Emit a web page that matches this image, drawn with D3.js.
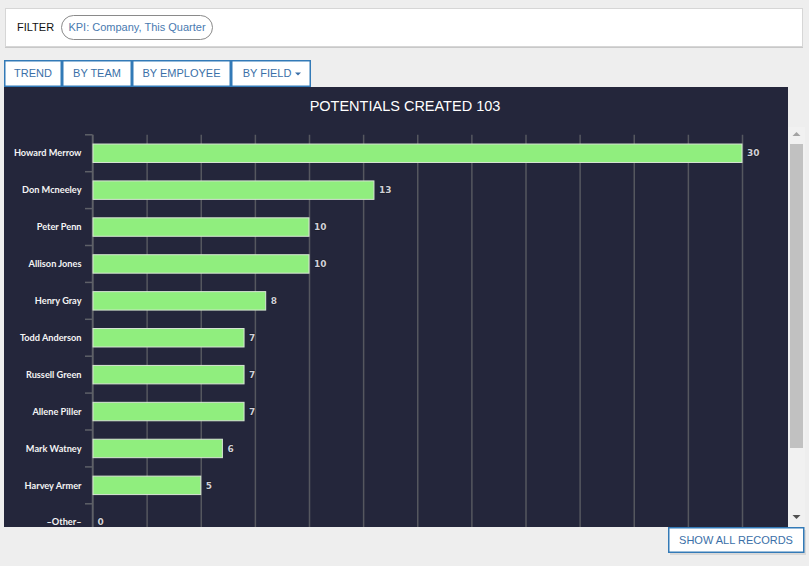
<!DOCTYPE html>
<html><head><meta charset="utf-8">
<script src="https://cdn.jsdelivr.net/npm/d3@7"></script>
<style>
body{margin:0;background:#eeeeee;font-family:"Liberation Sans",Arial,sans-serif;}
svg{display:block;}
</style></head><body>
<svg id="c" width="809" height="566"></svg>
<script>
const categories = ["Howard Merrow","Don Mcneeley","Peter Penn","Allison Jones","Henry Gray","Todd Anderson","Russell Green","Allene Piller","Mark Watney","Harvey Armer","–Other–"];
const values = [30,13,10,10,8,7,7,7,6,5,0];
const xTicks = [0,2.5,5,7.5,10,12.5,15,17.5,20,22.5,25,27.5,30];
const tabs = ["TREND","BY TEAM","BY EMPLOYEE","BY FIELD"];
const title = "POTENTIALS CREATED 103";
const filterText = "KPI: Company, This Quarter";

const svg = d3.select("#c");
const blue = "#337ab7";

// filter box
svg.append("rect").attr("x",5.5).attr("y",8.5).attr("width",797).attr("height",38)
  .attr("fill","#fff").attr("stroke","#d6d6d6");
svg.append("line").attr("x1",5).attr("x2",803).attr("y1",47.5).attr("y2",47.5).attr("stroke","#c8c8c8");
svg.append("text").attr("x",17).attr("y",31).attr("font-size",11).attr("fill","#111").text("FILTER");
svg.append("rect").attr("x",61.5).attr("y",15.5).attr("width",151).attr("height",24).attr("rx",12)
  .attr("fill","#fff").attr("stroke","#8a8a8a");
svg.append("text").attr("x",137).attr("y",31).attr("text-anchor","middle").attr("font-size",11)
  .attr("fill","#4a7ab0").text(filterText);

// tabs
const tabEdges = [4,62,132,231,311];
tabs.forEach((t,i)=>{
  const x0 = tabEdges[i], x1 = tabEdges[i+1];
  svg.append("rect").attr("x",x0+0.75).attr("y",60.75).attr("width",x1-x0-1.5).attr("height",25.5)
    .attr("fill","#fff").attr("stroke",blue).attr("stroke-width",1.5);
  svg.append("text").attr("x",(x0+x1)/2 - (i===3?4:0)).attr("y",77).attr("text-anchor","middle")
    .attr("font-size",11).attr("fill","#3a6fa8").text(t);
  if(i===3){
    svg.append("path").attr("d",`M${x1-16},${72.5} l6,0 l-3,3 z`).attr("fill","#3a6fa8");
  }
});

// dark panel
const panel = {x:4,y:87,w:784,h:440};
svg.append("rect").attr("x",panel.x).attr("y",panel.y).attr("width",panel.w).attr("height",panel.h).attr("fill","#24263b");
svg.append("text").attr("x",405).attr("y",111).attr("text-anchor","middle").attr("font-size",14.5)
  .attr("fill","#fff").text(title);

// scrollbar
svg.append("rect").attr("x",788).attr("y",127).attr("width",17).attr("height",400).attr("fill","#f1f1f1");
svg.append("rect").attr("x",790).attr("y",144).attr("width",13).attr("height",304).attr("fill","#c1c1c1");
svg.append("path").attr("d","M792.5,136 l4,-4 l4,4 z").attr("fill","#a3a3a3");
svg.append("path").attr("d","M792.5,515 l4,4 l4,-4 z").attr("fill","#505050");

// chart
svg.append("clipPath").attr("id","clip").append("rect").attr("x",panel.x).attr("y",panel.y).attr("width",panel.w).attr("height",panel.h);
const g = svg.append("g").attr("clip-path","url(#clip)");

const bandStep = 36.9, plotTop = 134.8;
const x = d3.scaleLinear().domain([0,30]).range([92.5,742]);
const y = d3.scaleBand().domain(categories).range([plotTop,plotTop+11*bandStep]).paddingInner(0.5).paddingOuter(0.25);

// grid
const xAxis = d3.axisBottom(x).tickValues(xTicks).tickSize(420).tickFormat("");
const gx = g.append("g").attr("transform",`translate(0,${plotTop})`).call(xAxis);
gx.select(".domain").remove();
gx.selectAll(".tick line").attr("stroke","#55575f").attr("stroke-width",1.5);

// y axis
const yScaleTicks = d3.scaleLinear().domain([0,11]).range([plotTop,plotTop+11*bandStep]);
const gy = g.append("g").attr("transform","translate(92.5,0)")
  .call(d3.axisLeft(y).tickSize(0).tickPadding(11));
gy.select(".domain").attr("stroke","#5e6068").attr("stroke-width",1.5).attr("d",`M0,${plotTop}V560`);
gy.selectAll(".tick text").attr("fill","#f4f4f4").attr("font-size",9.2).attr("font-weight","bold")
  .attr("font-family","Lato,'Liberation Sans',Arial,sans-serif").attr("dy","0.35em");
g.append("g").selectAll("line").data(d3.range(12)).join("line")
  .attr("x1",85).attr("x2",92.5).attr("y1",d=>yScaleTicks(d)).attr("y2",d=>yScaleTicks(d))
  .attr("stroke","#5e6068").attr("stroke-width",1.5);

// bars
g.append("g").selectAll("rect").data(values).join("rect")
  .attr("x",x(0)+0.5).attr("y",(d,i)=>y(categories[i]))
  .attr("width",d=>Math.max(0,x(d)-x(0)-0.5)).attr("height",y.bandwidth())
  .attr("fill",d=>d>0?"#90ee7e":"none").attr("stroke",d=>d>0?"#d8e6d4":"none").attr("stroke-width",1);

// value labels
g.append("g").selectAll("text").data(values).join("text")
  .attr("x",d=>x(d)+5).attr("y",(d,i)=>y(categories[i])+y.bandwidth()/2).attr("dy","0.35em")
  .attr("font-size",9).attr("font-weight","bold").attr("font-family","'DejaVu Sans',Verdana,sans-serif")
  .attr("fill","#cfcfd8").style("paint-order","stroke").attr("stroke","#15161f").attr("stroke-width",1)
  .text(d=>d);

// show all records button
svg.append("rect").attr("x",670).attr("y",530).attr("width",136).attr("height",25).attr("fill","#ccc").attr("opacity",0.6);
svg.append("rect").attr("x",668.75).attr("y",527.75).attr("width",135).attr("height",24.5)
  .attr("fill","#fff").attr("stroke",blue).attr("stroke-width",1.5);
svg.append("text").attr("x",736).attr("y",544).attr("text-anchor","middle").attr("font-size",11)
  .attr("fill","#3a6fa8").text("SHOW ALL RECORDS");
</script>
</body></html>
